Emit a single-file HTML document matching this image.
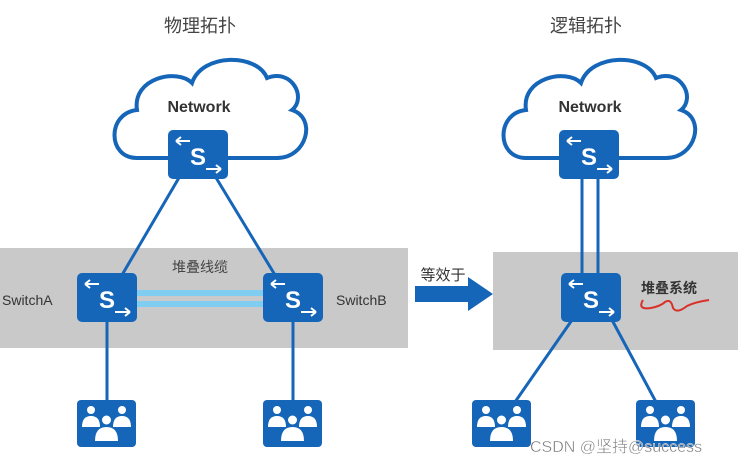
<!DOCTYPE html>
<html><head><meta charset="utf-8"><style>
html,body{margin:0;padding:0;background:#fff;}
svg{display:block;font-family:"Liberation Sans","Noto Sans CJK SC",sans-serif;}
</style></head><body>
<svg width="744" height="466" viewBox="0 0 744 466" xmlns="http://www.w3.org/2000/svg">
<defs>
<g id="sw">
<rect x="0" y="0" width="60" height="49" rx="5" fill="#1565b8"/>
<text x="30" y="35" font-size="24" font-weight="bold" fill="#fff" text-anchor="middle">S</text>
<path d="M22 11 H8 M8 11 l5 -4 M8 11 l5 4" stroke="#fff" stroke-width="2" fill="none"/>
<path d="M38 39 H53 M53 39 l-5 -4 M53 39 l-5 4" stroke="#fff" stroke-width="2" fill="none"/>
</g>
<g id="us">
<rect x="0" y="0" width="59" height="47" rx="4" fill="#1565b8"/>
<g fill="#fff">
<circle cx="14" cy="10" r="4"/><path d="M5 27 q0-11 9-11 q9 0 9 11z"/>
<circle cx="45" cy="10" r="4"/><path d="M36 27 q0-11 9-11 q9 0 9 11z"/>
<circle cx="29.5" cy="20" r="4.5"/><path d="M18 41 q0-14 11.5-14 q11.5 0 11.5 14z"/>
</g>
</g>
<g id="cloud">
<path d="M30 110 C0 110 0 65 30 62 C25 30 70 20 85 35 C95 5 150 5 160 30 C185 20 200 50 185 62 C210 70 200 110 170 110 Z" fill="#fff" stroke="#1565b8" stroke-width="4"/>
</g>
</defs>
<rect width="744" height="466" fill="#fff"/>
<rect x="0" y="248" width="408" height="100" fill="#c9c9c9"/>
<rect x="493" y="252" width="245" height="98" fill="#c9c9c9"/>
<text x="200" y="32" font-size="18" fill="#444" text-anchor="middle">物理拓扑</text>
<text x="586" y="32" font-size="18" fill="#444" text-anchor="middle">逻辑拓扑</text>
<use href="#cloud" transform="translate(107,48)"/>
<use href="#cloud" transform="translate(496,48)"/>
<text x="199" y="112" font-size="16" font-weight="bold" fill="#333" text-anchor="middle">Network</text>
<text x="590" y="112" font-size="16" font-weight="bold" fill="#333" text-anchor="middle">Network</text>
<g stroke="#1565b8" stroke-width="3" fill="none">
<line x1="180" y1="176" x2="122" y2="275"/>
<line x1="215" y1="176" x2="275" y2="275"/>
<line x1="107" y1="320" x2="107" y2="402"/>
<line x1="293" y1="320" x2="293" y2="402"/>
<line x1="582" y1="176" x2="582" y2="275"/>
<line x1="598" y1="176" x2="598" y2="275"/>
<line x1="572" y1="320" x2="515" y2="402"/>
<line x1="612" y1="320" x2="656" y2="402"/>
</g>
<rect x="136" y="290" width="128" height="6" fill="#7fcdf0"/>
<rect x="136" y="301" width="128" height="6" fill="#7fcdf0"/>
<use href="#sw" transform="translate(168,130)"/>
<use href="#sw" transform="translate(77,273)"/>
<use href="#sw" transform="translate(263,273)"/>
<use href="#sw" transform="translate(559,130)"/>
<use href="#sw" transform="translate(561,273)"/>
<use href="#us" transform="translate(77,400)"/>
<use href="#us" transform="translate(263,400)"/>
<use href="#us" transform="translate(472,400)"/>
<use href="#us" transform="translate(636,400)"/>
<text x="200" y="272" font-size="14" fill="#444" text-anchor="middle">堆叠线缆</text>
<text x="2" y="305" font-size="14" fill="#333">SwitchA</text>
<text x="336" y="305" font-size="14" fill="#333">SwitchB</text>
<text x="443" y="280" font-size="15" fill="#333" text-anchor="middle">等效于</text>
<path d="M415 286 H468 V277 L493 294 L468 311 V302 H415 Z" fill="#1565b8"/>
<text x="641" y="293" font-size="14" font-weight="bold" fill="#333">堆叠系统</text>
<path d="M643 300 q-6 10 8 8 q10 -2 14 -6 q6 -4 8 6 q4 6 14 -2 q8 -4 22 -6" stroke="#d9302a" stroke-width="2" fill="none"/>
<text x="530" y="452" font-size="16" fill="#777" stroke="#fff" stroke-width="0.4">CSDN @坚持@success</text>
</svg>
</body></html>
